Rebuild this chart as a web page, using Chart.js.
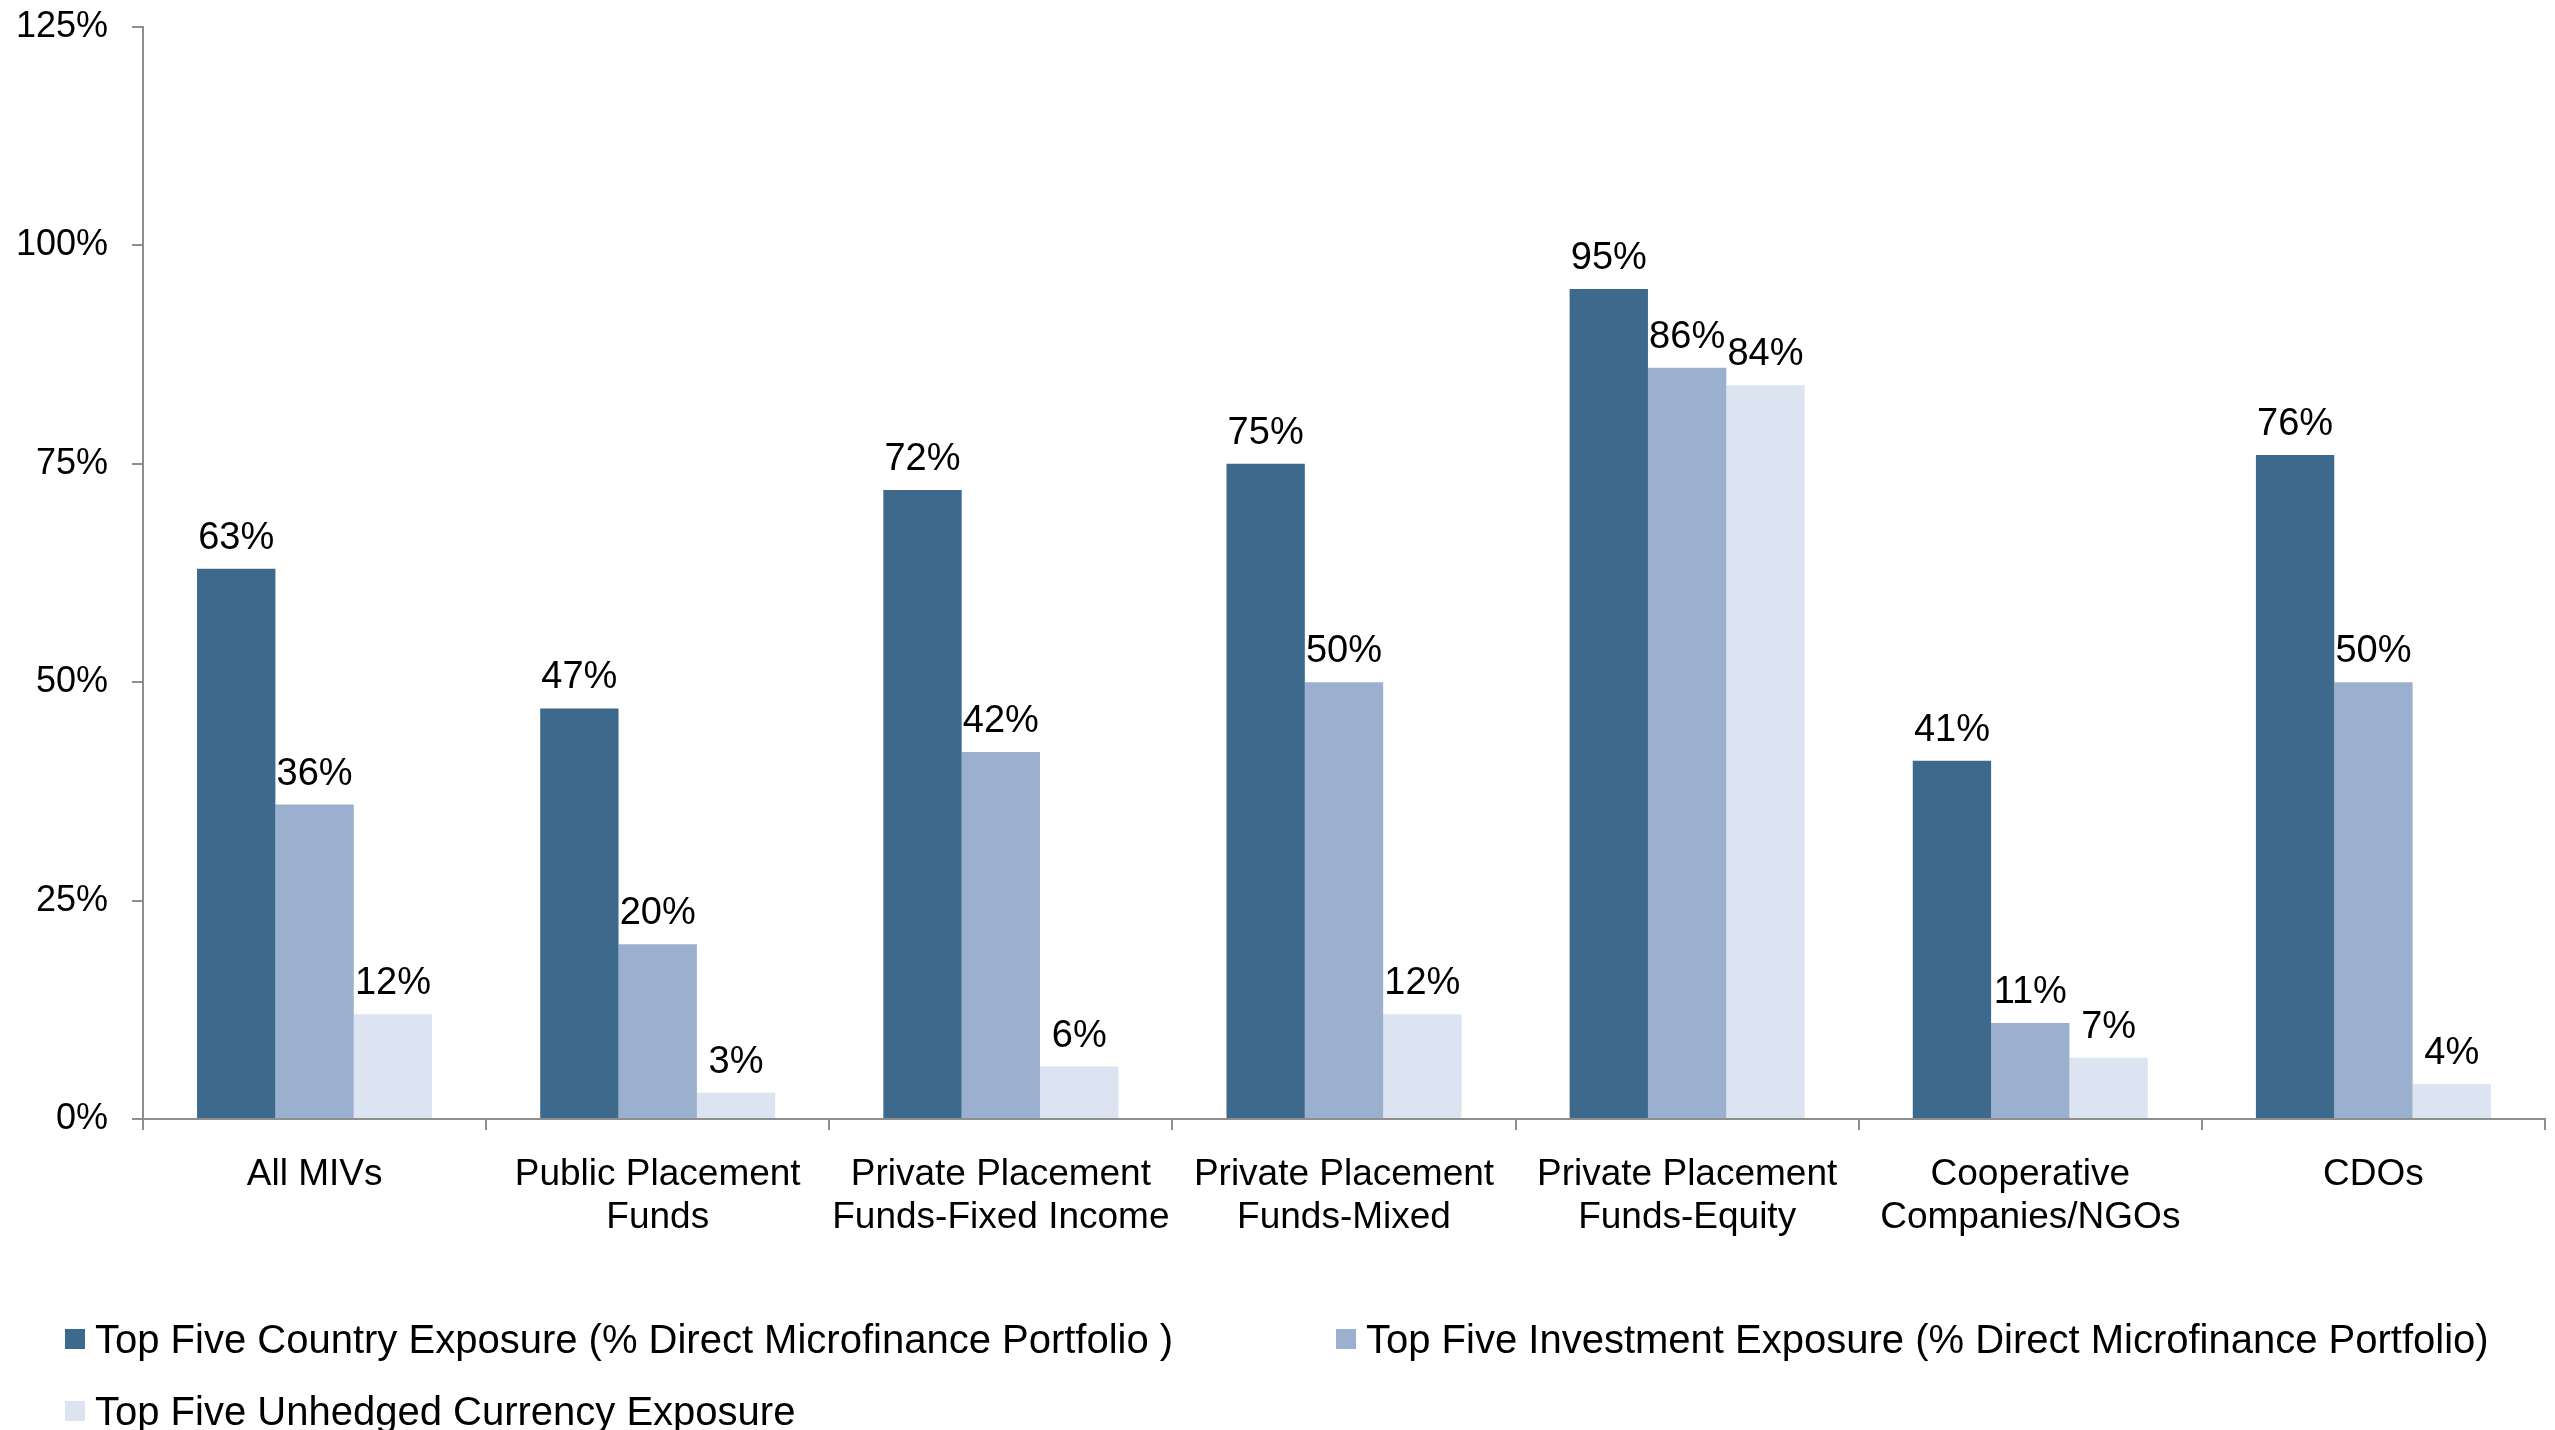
<!DOCTYPE html>
<html>
<head>
<meta charset="utf-8">
<script src="https://cdn.jsdelivr.net/npm/chart.js@4/dist/chart.umd.min.js"></script>
<style>
  html, body { margin: 0; padding: 0; background: #ffffff; }
  #wrap { position: relative; width: 2555px; height: 1430px; overflow: hidden; }
  #c { position: absolute; left: 0; top: 0; }
  #legend {
    position: absolute; left: 65px; top: 1318px;
    display: grid; grid-template-columns: 1271px auto; row-gap: 30px;
    font-family: "Liberation Sans", Arial, sans-serif; font-size: 40px; color: #000;
  }
  #legend .item { display: flex; align-items: center; height: 42px; line-height: 42px; white-space: nowrap; }
  #legend .swatch { width: 20px; height: 20px; margin-right: 10px; flex: none; }
</style>
</head>
<body>
<div id="wrap">
  <canvas id="c" width="2555" height="1430"></canvas>
  <div id="legend"></div>
</div>
<script>
// Vehicle types on the x axis (multi-line labels as arrays)
const categories = [
  'All MIVs',
  ['Public Placement', 'Funds'],
  ['Private Placement', 'Funds-Fixed Income'],
  ['Private Placement', 'Funds-Mixed'],
  ['Private Placement', 'Funds-Equity'],
  ['Cooperative', 'Companies/NGOs'],
  'CDOs'
];

// Concentration figures, percent
const countryExposure    = [63, 47, 72, 75, 95, 41, 76];
const investmentExposure = [36, 20, 42, 50, 86, 11, 50];
const currencyExposure   = [12,  3,  6, 12, 84,  7,  4];

const seriesNames = [
  'Top Five Country Exposure (% Direct Microfinance Portfolio )',
  'Top Five Investment Exposure (% Direct Microfinance Portfolio)',
  'Top Five Unhedged Currency Exposure'
];
const seriesColors = ['#3D6A8C', '#9BAFCE', '#DBE4F0'];

// Value axis ticks, percent
const yTicks = [0, 25, 50, 75, 100, 125];

const FONT = '"Liberation Sans", Arial, sans-serif';
const AXIS_GREY = '#8E8E8E';

// Prints each bar's value above it
const valueLabels = {
  id: 'valueLabels',
  afterDatasetsDraw(chart) {
    const ctx = chart.ctx;
    ctx.save();
    ctx.font = '38px ' + FONT;
    ctx.fillStyle = '#000';
    ctx.textAlign = 'center';
    ctx.textBaseline = 'alphabetic';
    chart.data.datasets.forEach((ds, i) => {
      chart.getDatasetMeta(i).data.forEach((bar, j) => {
        ctx.fillText(ds.data[j] + '%', bar.x, bar.y - 20);
      });
    });
    ctx.restore();
  }
};

const seriesData = [countryExposure, investmentExposure, currencyExposure];

const chart = new Chart(document.getElementById('c'), {
  type: 'bar',
  data: {
    labels: categories,
    datasets: seriesData.map((d, i) => ({
      label: seriesNames[i],
      data: d,
      backgroundColor: seriesColors[i],
      borderWidth: 0,
      barPercentage: 1.0,
      categoryPercentage: 0.685
    }))
  },
  options: {
    responsive: false,
    animation: false,
    devicePixelRatio: 1,
    layout: { padding: { top: 27, right: 10, bottom: 151, left: 0 } },
    plugins: {
      legend: { display: false },
      tooltip: { enabled: false },
      title: { display: false }
    },
    scales: {
      x: {
        grid: {
          display: true, offset: true, drawOnChartArea: false, drawTicks: true,
          tickLength: 11, color: AXIS_GREY, lineWidth: 2
        },
        border: { display: true, color: AXIS_GREY, width: 2 },
        ticks: {
          color: '#000', padding: 23, maxRotation: 0, autoSkip: false,
          font: { family: FONT, size: 37, lineHeight: 1.17 }
        },
        afterFit(scale) { scale.height = 160; }
      },
      y: {
        min: yTicks[0],
        max: yTicks[yTicks.length - 1],
        afterBuildTicks(scale) { scale.ticks = yTicks.map(v => ({ value: v })); },
        grid: {
          display: true, drawOnChartArea: false, drawTicks: true,
          tickLength: 11, color: AXIS_GREY, lineWidth: 2
        },
        border: { display: true, color: AXIS_GREY, width: 2 },
        ticks: {
          color: '#000', padding: 24,
          font: { family: FONT, size: 36, lineHeight: 1.2 },
          callback: v => v + '%'
        },
        afterFit(scale) {
          scale.width = 143;
          scale.paddingTop = 0;
          scale.paddingBottom = 0;
        }
      }
    }
  },
  plugins: [valueLabels]
});

// Legend built from the chart's own datasets
const legendEl = document.getElementById('legend');
chart.data.datasets.forEach(ds => {
  const item = document.createElement('div');
  item.className = 'item';
  const sw = document.createElement('span');
  sw.className = 'swatch';
  sw.style.background = ds.backgroundColor;
  const txt = document.createElement('span');
  txt.textContent = ds.label;
  item.appendChild(sw);
  item.appendChild(txt);
  legendEl.appendChild(item);
});
</script>
</body>
</html>
